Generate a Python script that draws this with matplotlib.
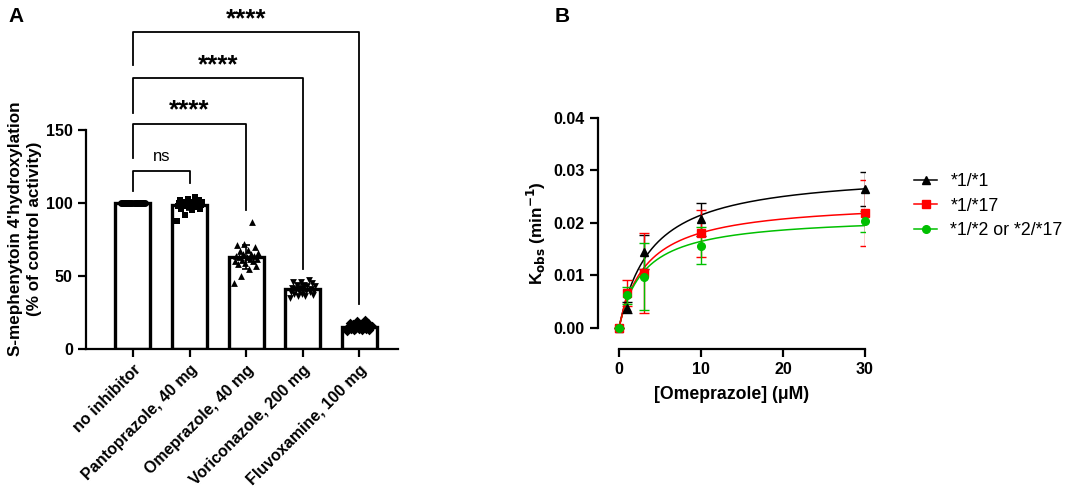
import numpy as np
import matplotlib
matplotlib.use("Agg")
import matplotlib.pyplot as plt

plt.rcParams['font.family'] = ['Liberation Sans', 'DejaVu Sans']

# ---- panel A data ----
groups = ["no inhibitor", "Pantoprazole, 40 mg", "Omeprazole, 40 mg",
          "Voriconazole, 200 mg", "Fluvoxamine, 100 mg"]
no_inhib = [100] * 24
panto = [100, 101, 99, 98, 102, 104, 97, 100, 96, 99, 101, 103, 98, 95,
         100, 97, 99, 102, 92, 88, 98, 100, 96, 101]
omep = [63, 62, 65, 60, 58, 70, 72, 64, 61, 66, 59, 55, 68, 63, 62, 50,
        45, 87, 67, 64, 60, 57, 71, 65]
vori = [41, 43, 40, 38, 44, 46, 42, 39, 36, 35, 45, 47, 41, 40, 37, 43,
        42, 38, 44, 40, 39, 46, 41, 36]
fluvo = [15, 14, 16, 13, 17, 19, 20, 15, 14, 12, 16, 18, 15, 13, 14, 16,
         15, 17, 14, 13, 16, 15, 18, 14]
values_a = [no_inhib, panto, omep, vori, fluvo]
markers_a = ["o", "s", "^", "v", "D"]

# significance brackets: (group i, group j, bracket height, left leg end, right leg end, label)
brackets = [(0, 1, 122, 108, 114, "ns"),
            (0, 2, 154, 131, 95, "****"),
            (0, 3, 185.5, 162, 55, "****"),
            (0, 4, 217, 194.5, 31, "****")]

# ---- panel B data ----
conc = [0, 1, 3, 10, 30]
k11 = [0, 0.0039, 0.0145, 0.0207, 0.0265]
k11_err = [0, 0.0011, 0.0033, 0.0031, 0.0033]
k117 = [0, 0.0066, 0.0104, 0.0180, 0.0219]
k117_err = [0, 0.0025, 0.0076, 0.0045, 0.0062]
k12 = [0, 0.0062, 0.0098, 0.0157, 0.0203]
k12_err = [0, 0.0016, 0.0064, 0.0036, 0.0020]
# fitted kinact, KI
fit11 = (0.0300, 3.95)
fit117 = (0.0243, 3.41)
fit12 = (0.02145, 3.0)

fig = plt.figure(figsize=(10.65, 4.92), dpi=100)
TICK_FS = 11.5

# ---------------- A ----------------
axA = fig.add_axes([0.0808, 0.2907, 0.293, 0.697])
x = np.arange(len(groups))
means = [np.mean(v) for v in values_a]
sds = [np.std(v, ddof=1) for v in values_a]
axA.bar(x, means, width=0.62, color="white", edgecolor="black", linewidth=2.4, zorder=2)
axA.errorbar(x, means, yerr=sds, fmt="none", ecolor="black", elinewidth=1.2,
             capsize=3, capthick=1.2, zorder=4)
for i, v in enumerate(values_a):
    n = len(v)
    off = np.linspace(-0.22, 0.22, n)
    order = np.argsort(np.argsort(v))
    xs = i + off[(order * 7) % n]
    axA.scatter(xs, v, marker=markers_a[i], s=24, color="black", zorder=3, linewidths=0)

for i, j, h, l1, l2, lab in brackets:
    axA.plot([i, i, j, j], [l1, h, h, l2], color="black", lw=1.3, clip_on=False)
    if lab == "ns":
        axA.text((i + j) / 2, h + 5, lab, ha="center", va="bottom", fontsize=12)
    else:
        axA.text((i + j) / 2, h + 1.0, lab, ha="center", va="bottom", fontsize=18.5,
                 fontweight="bold")

axA.set_xlim(-0.83, 4.69)
axA.set_ylim(0, 235)
axA.spines["left"].set_bounds(0, 150)
axA.set_yticks([0, 50, 100, 150])
axA.set_xticks(x)
axA.set_xticklabels(groups, rotation=45, ha="right", rotation_mode="anchor",
                    fontsize=TICK_FS, fontweight="bold")
for s in ["top", "right"]:
    axA.spines[s].set_visible(False)
for s in ["left", "bottom"]:
    axA.spines[s].set_linewidth(1.6)
axA.tick_params(width=1.6, length=6, labelsize=TICK_FS)
for t in axA.get_yticklabels():
    t.set_fontweight("bold")
axA.set_ylabel("S-mephenytoin 4'hydroxylation\n(% of control activity)",
               fontsize=12.3, fontweight="bold", y=0.35, labelpad=3, linespacing=1.3)

# ---------------- B ----------------
axB = fig.add_axes([0.5615, 0.2907, 0.2507, 0.4695])
xx = np.linspace(0, 30, 300)
series = [(k11, k11_err, fit11, "black", "^", "*1/*1"),
          (k117, k117_err, fit117, "red", "s", "*1/*17"),
          (k12, k12_err, fit12, "#00c000", "o", "*1/*2 or *2/*17")]
handles = []
for k, e, fit, col, mk, lab in series:
    axB.plot(xx, fit[0] * xx / (fit[1] + xx), color=col, lw=1.1, zorder=2)
    axB.errorbar(conc, k, yerr=e, fmt="none", ecolor=col, elinewidth=1.0,
                 capsize=3.5, capthick=1.0, zorder=3)
    axB.plot(conc, k, linestyle="none", marker=mk, color=col, markersize=5.5,
             zorder=4, clip_on=False)
    h, = axB.plot([], [], color=col, marker=mk, markersize=5.5, lw=1.1, label=lab)
    handles.append(h)
axB.plot([0, 1], [k117[0], k117[1]], color="red", lw=1.1, zorder=2)

axB.set_xlim(-2.56, 30)
axB.set_ylim(-0.004, 0.04)
axB.spines["left"].set_bounds(0, 0.04)
axB.spines["bottom"].set_bounds(0, 30)
axB.set_yticks([0, 0.01, 0.02, 0.03, 0.04])
axB.set_yticklabels(["0.00", "0.01", "0.02", "0.03", "0.04"])
axB.set_xticks([0, 10, 20, 30])
for s in ["top", "right"]:
    axB.spines[s].set_visible(False)
for s in ["left", "bottom"]:
    axB.spines[s].set_linewidth(1.6)
axB.tick_params(width=1.6, length=6, labelsize=TICK_FS)
for t in axB.get_yticklabels() + axB.get_xticklabels():
    t.set_fontweight("bold")
axB.set_xlabel("[Omeprazole] (μM)", fontsize=12.7, fontweight="bold", labelpad=6)
axB.set_ylabel("K$_{\\mathbf{obs}}$ (min$^{\\mathbf{-1}}$)", fontsize=12.3, fontweight="bold")
axB.legend(handles=handles, loc="upper left", bbox_to_anchor=(1.125, 0.83),
           frameon=False, fontsize=12.8, handlelength=1.3, handletextpad=0.73,
           labelspacing=0.42)

fig.text(0.008, 0.955, "A", fontsize=15, fontweight="bold")
fig.text(0.521, 0.955, "B", fontsize=15, fontweight="bold")

fig.savefig("out.png", dpi=100)
